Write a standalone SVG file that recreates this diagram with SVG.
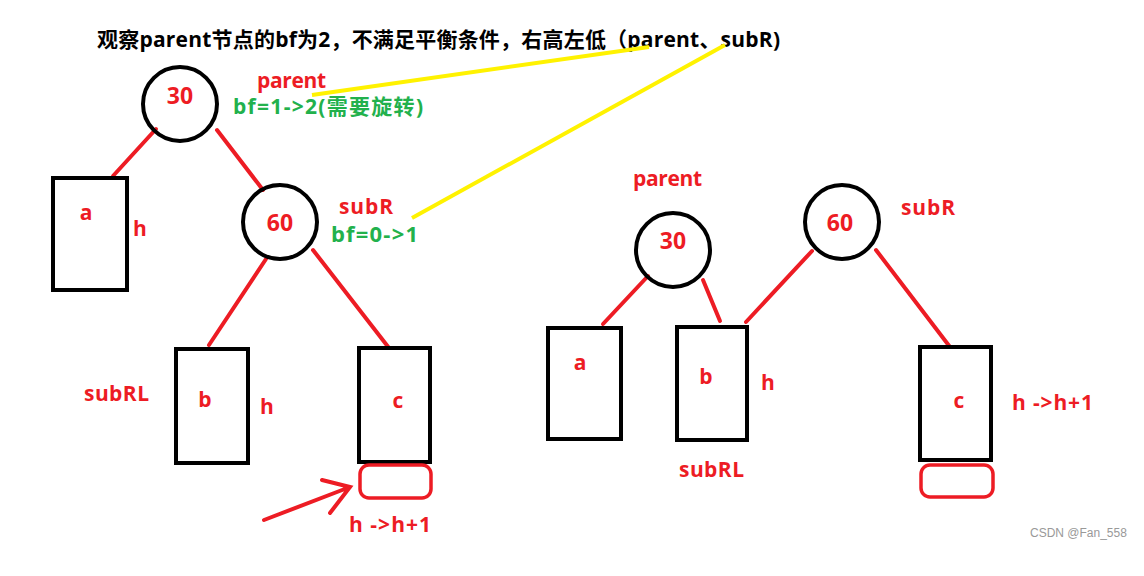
<svg xmlns="http://www.w3.org/2000/svg" width="1144" height="576" viewBox="0 0 1144 576">
<style>
.t{font-family:"Open Sans","Noto Sans CJK SC",sans-serif;font-weight:bold}
.r{fill:#ed1c24}
.g{fill:#22b14c}
.k{fill:#000}
.c{fill:none;stroke:#000;stroke-width:4}
.bx{fill:none;stroke:#000;stroke-width:4}
.e{stroke:#ed1c24;stroke-width:4;fill:none;stroke-linecap:round}
.y{stroke:#fff200;stroke-width:4;fill:none}
.rr{fill:none;stroke:#ed1c24;stroke-width:3.5}
</style>
<rect width="1144" height="576" fill="#fff"/>
<text class="t k" x="97" y="47" font-size="21" textLength="683">观察parent节点的bf为2，不满足平衡条件，右高左低（parent、subR)</text>
<g id="connectors">
<line class="e" x1="156" y1="129" x2="113" y2="176"/>
<line class="e" x1="217" y1="130" x2="263" y2="190"/>
<line class="e" x1="266" y1="259" x2="209" y2="345"/>
<line class="e" x1="313" y1="250" x2="389" y2="348"/>
<line class="e" x1="648" y1="276" x2="603" y2="324"/>
<line class="e" x1="703" y1="280" x2="720" y2="321"/>
<line class="e" x1="812" y1="251" x2="746" y2="322"/>
<line class="e" x1="876" y1="250" x2="950" y2="347"/>
<line class="y" x1="312" y1="95" x2="649" y2="47"/>
<line class="y" x1="412" y1="218" x2="725" y2="45"/>
<path class="e" d="M264 520 L350 487 M322 480 L350 487 L330 513"/>
</g>
<g id="L30"><circle class="c" cx="180" cy="104" r="37"/><text class="t r" x="180" y="104" font-size="23" text-anchor="middle">30</text></g>
<g id="Lparent"><text class="t r" x="257" y="88" font-size="21" textLength="69">parent</text><text class="t g" x="233" y="114" font-size="21" textLength="190">bf=1-&gt;2(需要旋转)</text></g>
<g id="La"><rect class="bx" x="53" y="178" width="74" height="112"/><text class="t r" x="86" y="220" font-size="21" text-anchor="middle">a</text><text class="t r" x="133" y="236" font-size="21">h</text></g>
<g id="L60"><circle class="c" cx="280" cy="222" r="37"/><text class="t r" x="280" y="231" font-size="23" text-anchor="middle">60</text></g>
<g id="LsubR"><text class="t r" x="339" y="214" font-size="21" textLength="54">subR</text><text class="t g" x="331" y="242" font-size="22" textLength="87">bf=0-&gt;1</text></g>
<g id="Lb"><rect class="bx" x="176" y="349" width="72" height="114"/><text class="t r" x="205" y="407" font-size="21" text-anchor="middle">b</text><text class="t r" x="260" y="414" font-size="21">h</text><text class="t r" x="84" y="401" font-size="21" textLength="65">subRL</text></g>
<g id="Lc"><rect class="bx" x="359" y="348" width="71" height="114"/><text class="t r" x="398" y="408" font-size="21" text-anchor="middle">c</text><rect class="rr" x="360" y="465" width="71" height="33" rx="9"/><text class="t r" x="349" y="532" font-size="21" textLength="82">h -&gt;h+1</text></g>
<g id="R30"><circle class="c" cx="673" cy="250" r="37"/><text class="t r" x="673" y="249" font-size="23" text-anchor="middle">30</text><text class="t r" x="633" y="186" font-size="21" textLength="69">parent</text></g>
<g id="R60"><circle class="c" cx="842" cy="222" r="37"/><text class="t r" x="840" y="231" font-size="23" text-anchor="middle">60</text><text class="t r" x="901" y="215" font-size="21" textLength="54">subR</text></g>
<g id="Ra"><rect class="bx" x="548" y="328" width="73" height="111"/><text class="t r" x="580" y="370" font-size="21" text-anchor="middle">a</text></g>
<g id="Rb"><rect class="bx" x="677" y="327" width="70" height="113"/><text class="t r" x="706" y="384" font-size="21" text-anchor="middle">b</text><text class="t r" x="761" y="390" font-size="21">h</text><text class="t r" x="679" y="477" font-size="21" textLength="65">subRL</text></g>
<g id="Rc"><rect class="bx" x="920" y="347" width="71" height="113"/><text class="t r" x="959" y="408" font-size="21" text-anchor="middle">c</text><rect class="rr" x="921" y="465" width="72" height="32" rx="9"/><text class="t r" x="1012" y="410" font-size="21" textLength="81">h -&gt;h+1</text></g>
<text x="1030" y="537" font-family="Liberation Sans,sans-serif" font-size="12" fill="#999">CSDN @Fan_558</text>
</svg>
